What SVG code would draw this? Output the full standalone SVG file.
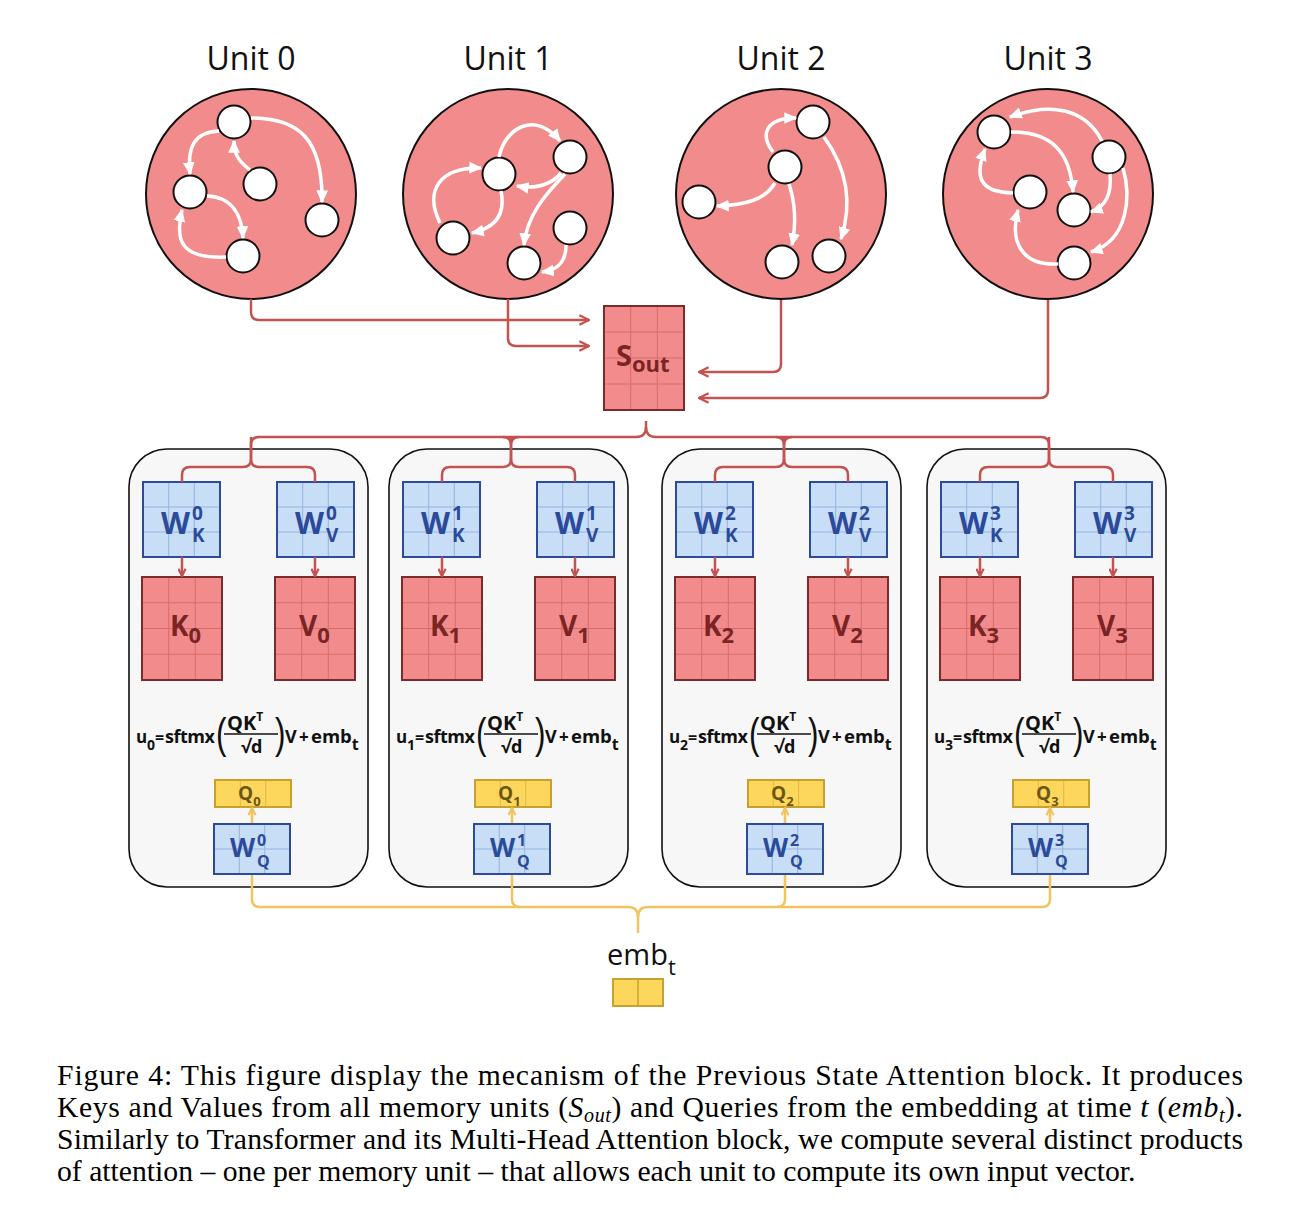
<svg xmlns="http://www.w3.org/2000/svg" width="1299" height="1221" viewBox="0 0 1299 1221">
<style>
.ul{font-family:"Open Sans","DejaVu Sans",sans-serif;font-size:32px;fill:#111;text-anchor:middle}
.b{font-family:"Open Sans","DejaVu Sans",sans-serif;font-weight:700}
.bt{fill:#2c4a9a}
.rt{fill:#7a2424}
.qt{fill:#6b5714}
.ft{fill:#111}
.sp{font-size:19px}
.sq{font-size:16px}
.par{font-family:"Liberation Sans",Arial,sans-serif;font-weight:400;font-size:42px;fill:#111}
.cap{font-family:"Liberation Serif","Times New Roman",serif;font-size:29.7px;fill:#000}
.unit{fill:#f28c8c;stroke:#111;stroke-width:2}
.nd{fill:#fff;stroke:#111;stroke-width:2}
.wa{fill:none;stroke:#fff;stroke-width:3.5;marker-end:url(#wh)}
.rc{fill:none;stroke:#c4524f;stroke-width:2.5}
.ra{marker-end:url(#ra)}
.rs{fill:none;stroke:#c4524f;stroke-width:2.5;marker-end:url(#rs)}
.yc{fill:none;stroke:#f0c461;stroke-width:2.5}
.ys{fill:none;stroke:#f0c461;stroke-width:2.5;marker-end:url(#ys)}
.panel{fill:#f7f7f7;stroke:#111;stroke-width:1.6}
</style>
<defs>
<marker id="wh" viewBox="0 0 10 10" refX="9" refY="5" markerWidth="13" markerHeight="13" markerUnits="userSpaceOnUse" orient="auto"><path d="M0,0.5 L10,5 L0,9.5 z" fill="#fff"/></marker>
<marker id="ra" viewBox="0 0 10 10" refX="9" refY="5" markerWidth="12" markerHeight="12" markerUnits="userSpaceOnUse" orient="auto"><path d="M1,1 L9,5 L1,9" fill="none" stroke="#c4524f" stroke-width="2"/></marker>
<marker id="rs" viewBox="0 0 10 10" refX="9" refY="5" markerWidth="9" markerHeight="9" markerUnits="userSpaceOnUse" orient="auto"><path d="M1,1 L9,5 L1,9" fill="none" stroke="#c4524f" stroke-width="2.4"/></marker>
<marker id="ys" viewBox="0 0 10 10" refX="9" refY="5" markerWidth="9" markerHeight="9" markerUnits="userSpaceOnUse" orient="auto"><path d="M1,1 L9,5 L1,9" fill="none" stroke="#f0c461" stroke-width="2.4"/></marker>
<g id="kv"><rect width="80" height="103" fill="#f28c8c"/><path d="M26.7 0V103M53.3 0V103M0 25.75H80M0 51.5H80M0 77.25H80" stroke="#d86c6c" stroke-width="1"/><rect width="80" height="103" fill="none" stroke="#7b2b2b" stroke-width="2"/></g>
<g id="sb"><rect width="80" height="104" fill="#f28c8c"/><path d="M26.7 0V104M53.3 0V104M0 26H80M0 52H80M0 78H80" stroke="#d86c6c" stroke-width="1"/><rect width="80" height="104" fill="none" stroke="#7b2b2b" stroke-width="2"/></g>
<g id="wb"><rect width="77" height="75" fill="#c8ddf6"/><path d="M25.7 0V75M51.3 0V75M0 25H77M0 50H77" stroke="#93b5e2" stroke-width="1"/><rect width="77" height="75" fill="none" stroke="#2e4a9a" stroke-width="2"/></g>
<g id="wq"><rect width="76" height="50" fill="#c8ddf6"/><path d="M25.3 0V50M50.7 0V50M0 25H76" stroke="#93b5e2" stroke-width="1"/><rect width="76" height="50" fill="none" stroke="#2e4a9a" stroke-width="2"/></g>
<g id="qb"><rect width="76" height="27" fill="#fdd65c"/><path d="M25.3 0V27M50.7 0V27" stroke="#e0b84a" stroke-width="1"/><rect width="76" height="27" fill="none" stroke="#c8a12c" stroke-width="2"/></g>
</defs>
<rect width="1299" height="1221" fill="#fff"/>

<!-- Units -->
<g id="unit0">
<text class="ul" x="251" y="70">Unit 0</text>
<circle class="unit" cx="251" cy="194" r="105"/>
<circle class="nd" cx="234" cy="122" r="16.5"/>
<circle class="nd" cx="190" cy="192" r="16.5"/>
<circle class="nd" cx="260" cy="184" r="16.5"/>
<circle class="nd" cx="322" cy="220" r="16.5"/>
<circle class="nd" cx="243" cy="256" r="16.5"/>
</g>
<g id="unit1">
<text class="ul" x="508" y="70">Unit 1</text>
<circle class="unit" cx="508" cy="194" r="105"/>
<circle class="nd" cx="499" cy="174" r="16.5"/>
<circle class="nd" cx="570" cy="157" r="16.5"/>
<circle class="nd" cx="453" cy="238" r="16.5"/>
<circle class="nd" cx="570" cy="228" r="16.5"/>
<circle class="nd" cx="524" cy="263" r="16.5"/>
</g>
<g id="unit2">
<text class="ul" x="781" y="70">Unit 2</text>
<circle class="unit" cx="781" cy="194" r="105"/>
<circle class="nd" cx="813" cy="122" r="16.5"/>
<circle class="nd" cx="785" cy="167" r="16.5"/>
<circle class="nd" cx="699" cy="202" r="16.5"/>
<circle class="nd" cx="782" cy="262" r="16.5"/>
<circle class="nd" cx="829" cy="256" r="16.5"/>
</g>
<g id="unit3">
<text class="ul" x="1048" y="70">Unit 3</text>
<circle class="unit" cx="1048" cy="194" r="105"/>
<circle class="nd" cx="994" cy="132" r="16.5"/>
<circle class="nd" cx="1109" cy="157" r="16.5"/>
<circle class="nd" cx="1030" cy="192" r="16.5"/>
<circle class="nd" cx="1074" cy="210" r="16.5"/>
<circle class="nd" cx="1074" cy="263" r="16.5"/>
</g>

<!-- S_out -->
<g id="sout">
<use href="#sb" x="604" y="306"/>
<text class="b rt" x="616" y="366" font-size="29">S<tspan font-size="22" dy="6">out</tspan></text>
</g>

<!-- Panels -->
<g id="panel0">
<rect class="panel" x="129" y="449" width="239" height="438" rx="38"/>
<g id="wk0"><use href="#wb" x="143" y="482"/><text class="b bt" x="161" y="534" font-size="30">W</text><text class="b bt sp" x="192" y="520">0</text><text class="b bt sp" x="192" y="542">K</text></g>
<g id="wv0"><use href="#wb" x="277" y="482"/><text class="b bt" x="295" y="534" font-size="30">W</text><text class="b bt sp" x="326" y="520">0</text><text class="b bt sp" x="326" y="542">V</text></g>
<g id="k0"><use href="#kv" x="142" y="577"/><text class="b rt" x="170" y="636" font-size="28">K<tspan font-size="22" dy="7">0</tspan></text></g>
<g id="v0"><use href="#kv" x="275" y="577"/><text class="b rt" x="299" y="636" font-size="28">V<tspan font-size="22" dy="7">0</tspan></text></g>
<g id="f0" class="b ft">
<text x="136" y="743" font-size="17">u</text><text x="147" y="750" font-size="14">0</text>
<text x="155" y="743" font-size="16">=</text>
<text x="165" y="743" font-size="18" textLength="50">sftmx</text>
<text class="par" transform="translate(216,748) scale(0.75,1)">(</text>
<text x="227" y="730" font-size="20">QK<tspan font-size="12" dy="-9">T</tspan></text>
<line x1="224" y1="734" x2="278" y2="734" stroke="#111" stroke-width="1.6"/>
<text x="241" y="753" font-size="18">√d</text>
<text class="par" transform="translate(275,748) scale(0.75,1)">)</text>
<text x="285" y="743" font-size="18">V</text>
<text x="299" y="743" font-size="17">+</text>
<text x="311" y="743" font-size="18.5">emb<tspan font-size="16" dy="7">t</tspan></text>
</g>
<g id="q0"><use href="#qb" x="215" y="780"/><text class="b qt" x="238" y="800" font-size="19">Q<tspan font-size="13" dy="6">0</tspan></text></g>
<g id="wq0"><use href="#wq" x="214" y="824"/><text class="b bt" x="230" y="857" font-size="26">W</text><text class="b bt sq" x="257" y="846">0</text><text class="b bt sq" x="257" y="867">Q</text></g>
</g>

<g id="panel1" transform="translate(260,0)">
<rect class="panel" x="129" y="449" width="239" height="438" rx="38"/>
<g id="wk1"><use href="#wb" x="143" y="482"/><text class="b bt" x="161" y="534" font-size="30">W</text><text class="b bt sp" x="192" y="520">1</text><text class="b bt sp" x="192" y="542">K</text></g>
<g id="wv1"><use href="#wb" x="277" y="482"/><text class="b bt" x="295" y="534" font-size="30">W</text><text class="b bt sp" x="326" y="520">1</text><text class="b bt sp" x="326" y="542">V</text></g>
<g id="k1"><use href="#kv" x="142" y="577"/><text class="b rt" x="170" y="636" font-size="28">K<tspan font-size="22" dy="7">1</tspan></text></g>
<g id="v1"><use href="#kv" x="275" y="577"/><text class="b rt" x="299" y="636" font-size="28">V<tspan font-size="22" dy="7">1</tspan></text></g>
<g id="f1" class="b ft">
<text x="136" y="743" font-size="17">u</text><text x="147" y="750" font-size="14">1</text>
<text x="155" y="743" font-size="16">=</text>
<text x="165" y="743" font-size="18" textLength="50">sftmx</text>
<text class="par" transform="translate(216,748) scale(0.75,1)">(</text>
<text x="227" y="730" font-size="20">QK<tspan font-size="12" dy="-9">T</tspan></text>
<line x1="224" y1="734" x2="278" y2="734" stroke="#111" stroke-width="1.6"/>
<text x="241" y="753" font-size="18">√d</text>
<text class="par" transform="translate(275,748) scale(0.75,1)">)</text>
<text x="285" y="743" font-size="18">V</text>
<text x="299" y="743" font-size="17">+</text>
<text x="311" y="743" font-size="18.5">emb<tspan font-size="16" dy="7">t</tspan></text>
</g>
<g id="q1"><use href="#qb" x="215" y="780"/><text class="b qt" x="238" y="800" font-size="19">Q<tspan font-size="13" dy="6">1</tspan></text></g>
<g id="wq1"><use href="#wq" x="214" y="824"/><text class="b bt" x="230" y="857" font-size="26">W</text><text class="b bt sq" x="257" y="846">1</text><text class="b bt sq" x="257" y="867">Q</text></g>
</g>

<g id="panel2" transform="translate(533,0)">
<rect class="panel" x="129" y="449" width="239" height="438" rx="38"/>
<g id="wk2"><use href="#wb" x="143" y="482"/><text class="b bt" x="161" y="534" font-size="30">W</text><text class="b bt sp" x="192" y="520">2</text><text class="b bt sp" x="192" y="542">K</text></g>
<g id="wv2"><use href="#wb" x="277" y="482"/><text class="b bt" x="295" y="534" font-size="30">W</text><text class="b bt sp" x="326" y="520">2</text><text class="b bt sp" x="326" y="542">V</text></g>
<g id="k2"><use href="#kv" x="142" y="577"/><text class="b rt" x="170" y="636" font-size="28">K<tspan font-size="22" dy="7">2</tspan></text></g>
<g id="v2"><use href="#kv" x="275" y="577"/><text class="b rt" x="299" y="636" font-size="28">V<tspan font-size="22" dy="7">2</tspan></text></g>
<g id="f2" class="b ft">
<text x="136" y="743" font-size="17">u</text><text x="147" y="750" font-size="14">2</text>
<text x="155" y="743" font-size="16">=</text>
<text x="165" y="743" font-size="18" textLength="50">sftmx</text>
<text class="par" transform="translate(216,748) scale(0.75,1)">(</text>
<text x="227" y="730" font-size="20">QK<tspan font-size="12" dy="-9">T</tspan></text>
<line x1="224" y1="734" x2="278" y2="734" stroke="#111" stroke-width="1.6"/>
<text x="241" y="753" font-size="18">√d</text>
<text class="par" transform="translate(275,748) scale(0.75,1)">)</text>
<text x="285" y="743" font-size="18">V</text>
<text x="299" y="743" font-size="17">+</text>
<text x="311" y="743" font-size="18.5">emb<tspan font-size="16" dy="7">t</tspan></text>
</g>
<g id="q2"><use href="#qb" x="215" y="780"/><text class="b qt" x="238" y="800" font-size="19">Q<tspan font-size="13" dy="6">2</tspan></text></g>
<g id="wq2"><use href="#wq" x="214" y="824"/><text class="b bt" x="230" y="857" font-size="26">W</text><text class="b bt sq" x="257" y="846">2</text><text class="b bt sq" x="257" y="867">Q</text></g>
</g>

<g id="panel3" transform="translate(798,0)">
<rect class="panel" x="129" y="449" width="239" height="438" rx="38"/>
<g id="wk3"><use href="#wb" x="143" y="482"/><text class="b bt" x="161" y="534" font-size="30">W</text><text class="b bt sp" x="192" y="520">3</text><text class="b bt sp" x="192" y="542">K</text></g>
<g id="wv3"><use href="#wb" x="277" y="482"/><text class="b bt" x="295" y="534" font-size="30">W</text><text class="b bt sp" x="326" y="520">3</text><text class="b bt sp" x="326" y="542">V</text></g>
<g id="k3"><use href="#kv" x="142" y="577"/><text class="b rt" x="170" y="636" font-size="28">K<tspan font-size="22" dy="7">3</tspan></text></g>
<g id="v3"><use href="#kv" x="275" y="577"/><text class="b rt" x="299" y="636" font-size="28">V<tspan font-size="22" dy="7">3</tspan></text></g>
<g id="f3" class="b ft">
<text x="136" y="743" font-size="17">u</text><text x="147" y="750" font-size="14">3</text>
<text x="155" y="743" font-size="16">=</text>
<text x="165" y="743" font-size="18" textLength="50">sftmx</text>
<text class="par" transform="translate(216,748) scale(0.75,1)">(</text>
<text x="227" y="730" font-size="20">QK<tspan font-size="12" dy="-9">T</tspan></text>
<line x1="224" y1="734" x2="278" y2="734" stroke="#111" stroke-width="1.6"/>
<text x="241" y="753" font-size="18">√d</text>
<text class="par" transform="translate(275,748) scale(0.75,1)">)</text>
<text x="285" y="743" font-size="18">V</text>
<text x="299" y="743" font-size="17">+</text>
<text x="311" y="743" font-size="18.5">emb<tspan font-size="16" dy="7">t</tspan></text>
</g>
<g id="q3"><use href="#qb" x="215" y="780"/><text class="b qt" x="238" y="800" font-size="19">Q<tspan font-size="13" dy="6">3</tspan></text></g>
<g id="wq3"><use href="#wq" x="214" y="824"/><text class="b bt" x="230" y="857" font-size="26">W</text><text class="b bt sq" x="257" y="846">3</text><text class="b bt sq" x="257" y="867">Q</text></g>
</g>

<!-- emb_t -->
<g id="emb">
<text x="607" y="965" font-family="Open Sans, DejaVu Sans, sans-serif" font-size="29" fill="#111">emb<tspan font-size="22" dy="10">t</tspan></text>
<rect x="613" y="979" width="50" height="27" fill="#fdd65c" stroke="#c8a12c" stroke-width="2"/>
<line x1="638" y1="979" x2="638" y2="1006" stroke="#c8a12c" stroke-width="1.5"/>
</g>

<!-- Connectors -->
<g id="connectors">
<g id="unit-edges">
<path class="wa" d="M251 118 C300 118 323 140 322 202"/>
<path class="wa" d="M219 131 C195 132 187 146 190 174"/>
<path class="wa" d="M250 170 C240 162 234 156 234 141"/>
<path class="wa" d="M207 196 C232 197 242 215 243 238"/>
<path class="wa" d="M226 257 C180 259 175 240 182 210"/>

<path class="wa" d="M499 157 C505 128 535 110 560 141"/>
<path class="wa" d="M440 223 C424 190 440 167 481 168"/>
<path class="wa" d="M501 191 C506 215 495 228 472 233"/>
<path class="wa" d="M561 173 C550 186 535 189 517 186"/>
<path class="wa" d="M565 174 C545 195 527 215 524 245"/>
<path class="wa" d="M566 245 C566 262 558 270 542 272"/>

<path class="wa" d="M773 152 C760 135 765 118 796 118"/>
<path class="wa" d="M775 183 C765 200 745 205 717 206"/>
<path class="wa" d="M789 184 C796 205 796 225 792 245"/>
<path class="wa" d="M824 137 C848 170 852 205 841 239"/>

<path class="wa" d="M1102 141 C1085 108 1050 102 1010 117"/>
<path class="wa" d="M1011 132 C1050 132 1070 150 1073 192"/>
<path class="wa" d="M1013 193 C980 192 974 178 985 149"/>
<path class="wa" d="M1110 174 C1112 195 1105 207 1091 212"/>
<path class="wa" d="M1123 168 C1131 195 1129 240 1091 252"/>
<path class="wa" d="M1058 264 C1020 266 1010 240 1018 210"/>
</g>
<g id="to-sout">
<path class="rc ra" d="M251 299 L251 312 Q251 320 259 320 L589 320"/>
<path class="rc ra" d="M508 299 L508 338 Q508 346 516 346 L589 346"/>
<path class="rc ra" d="M781 300 L781 364 Q781 372 773 372 L699 372"/>
<path class="rc ra" d="M1048 300 L1048 390 Q1048 398 1040 398 L699 398"/>
</g>
<g id="sout-brace">
<path class="rc" d="M251 462 L251 445 Q251 437 259 437 L636 437 Q646 437 646 427 L646 421"/>
<path class="rc" d="M646 427 Q646 437 656 437 L1041 437 Q1049 437 1049 445 L1049 462"/>
<path class="rc" d="M503 437 Q511 437 511 445 L511 462 M519 437 Q511 437 511 445"/>
<path class="rc" d="M776 437 Q784 437 784 445 L784 462 M792 437 Q784 437 784 445"/>
</g>
<g id="kv-branches">
<g id="br0"><path class="rc" d="M182 482 L182 475 Q182 467 190 467 L243 467 Q251 467 251 459 L251 437 M251 459 Q251 467 259 467 L307 467 Q315 467 315 475 L315 482"/><path class="rs" d="M182 557 L182 576"/><path class="rs" d="M315 557 L315 576"/></g>
<g id="br1" transform="translate(260,0)"><path class="rc" d="M182 482 L182 475 Q182 467 190 467 L243 467 Q251 467 251 459 L251 437 M251 459 Q251 467 259 467 L307 467 Q315 467 315 475 L315 482"/><path class="rs" d="M182 557 L182 576"/><path class="rs" d="M315 557 L315 576"/></g>
<g id="br2" transform="translate(533,0)"><path class="rc" d="M182 482 L182 475 Q182 467 190 467 L243 467 Q251 467 251 459 L251 437 M251 459 Q251 467 259 467 L307 467 Q315 467 315 475 L315 482"/><path class="rs" d="M182 557 L182 576"/><path class="rs" d="M315 557 L315 576"/></g>
<g id="br3" transform="translate(798,0)"><path class="rc" d="M182 482 L182 475 Q182 467 190 467 L243 467 Q251 467 251 459 L251 437 M251 459 Q251 467 259 467 L307 467 Q315 467 315 475 L315 482"/><path class="rs" d="M182 557 L182 576"/><path class="rs" d="M315 557 L315 576"/></g>
</g>
<g id="q-arrows">
<path class="ys" d="M252 823 L252 808"/>
<path class="ys" d="M512 823 L512 808"/>
<path class="ys" d="M785 823 L785 808"/>
<path class="ys" d="M1050 823 L1050 808"/>
</g>
<g id="emb-brace">
<path class="yc" d="M252 875 L252 899 Q252 907 260 907 L628 907 Q638 907 638 917 L638 933"/>
<path class="yc" d="M638 917 Q638 907 648 907 L1042 907 Q1050 907 1050 899 L1050 875"/>
<path class="yc" d="M512 875 L512 899 Q512 907 520 907"/>
<path class="yc" d="M785 875 L785 899 Q785 907 777 907"/>
</g>
</g>

<!-- Caption -->
<g id="caption" class="cap">
<text x="57" y="1085" textLength="1186" lengthAdjust="spacing">Figure 4: This figure display the mecanism of the Previous State Attention block.  It produces</text>
<text x="57" y="1117" textLength="1186" lengthAdjust="spacing">Keys and Values from all memory units (<tspan font-style="italic">S</tspan><tspan font-style="italic" font-size="20" dy="5">out</tspan><tspan dy="-5">) and Queries from the embedding at time </tspan><tspan font-style="italic">t</tspan> (<tspan font-style="italic">emb</tspan><tspan font-style="italic" font-size="20" dy="5">t</tspan><tspan dy="-5">).</tspan></text>
<text x="57" y="1149" textLength="1186" lengthAdjust="spacing">Similarly to Transformer and its Multi-Head Attention block, we compute several distinct products</text>
<text x="57" y="1181">of attention – one per memory unit – that allows each unit to compute its own input vector.</text>
</g>
</svg>
